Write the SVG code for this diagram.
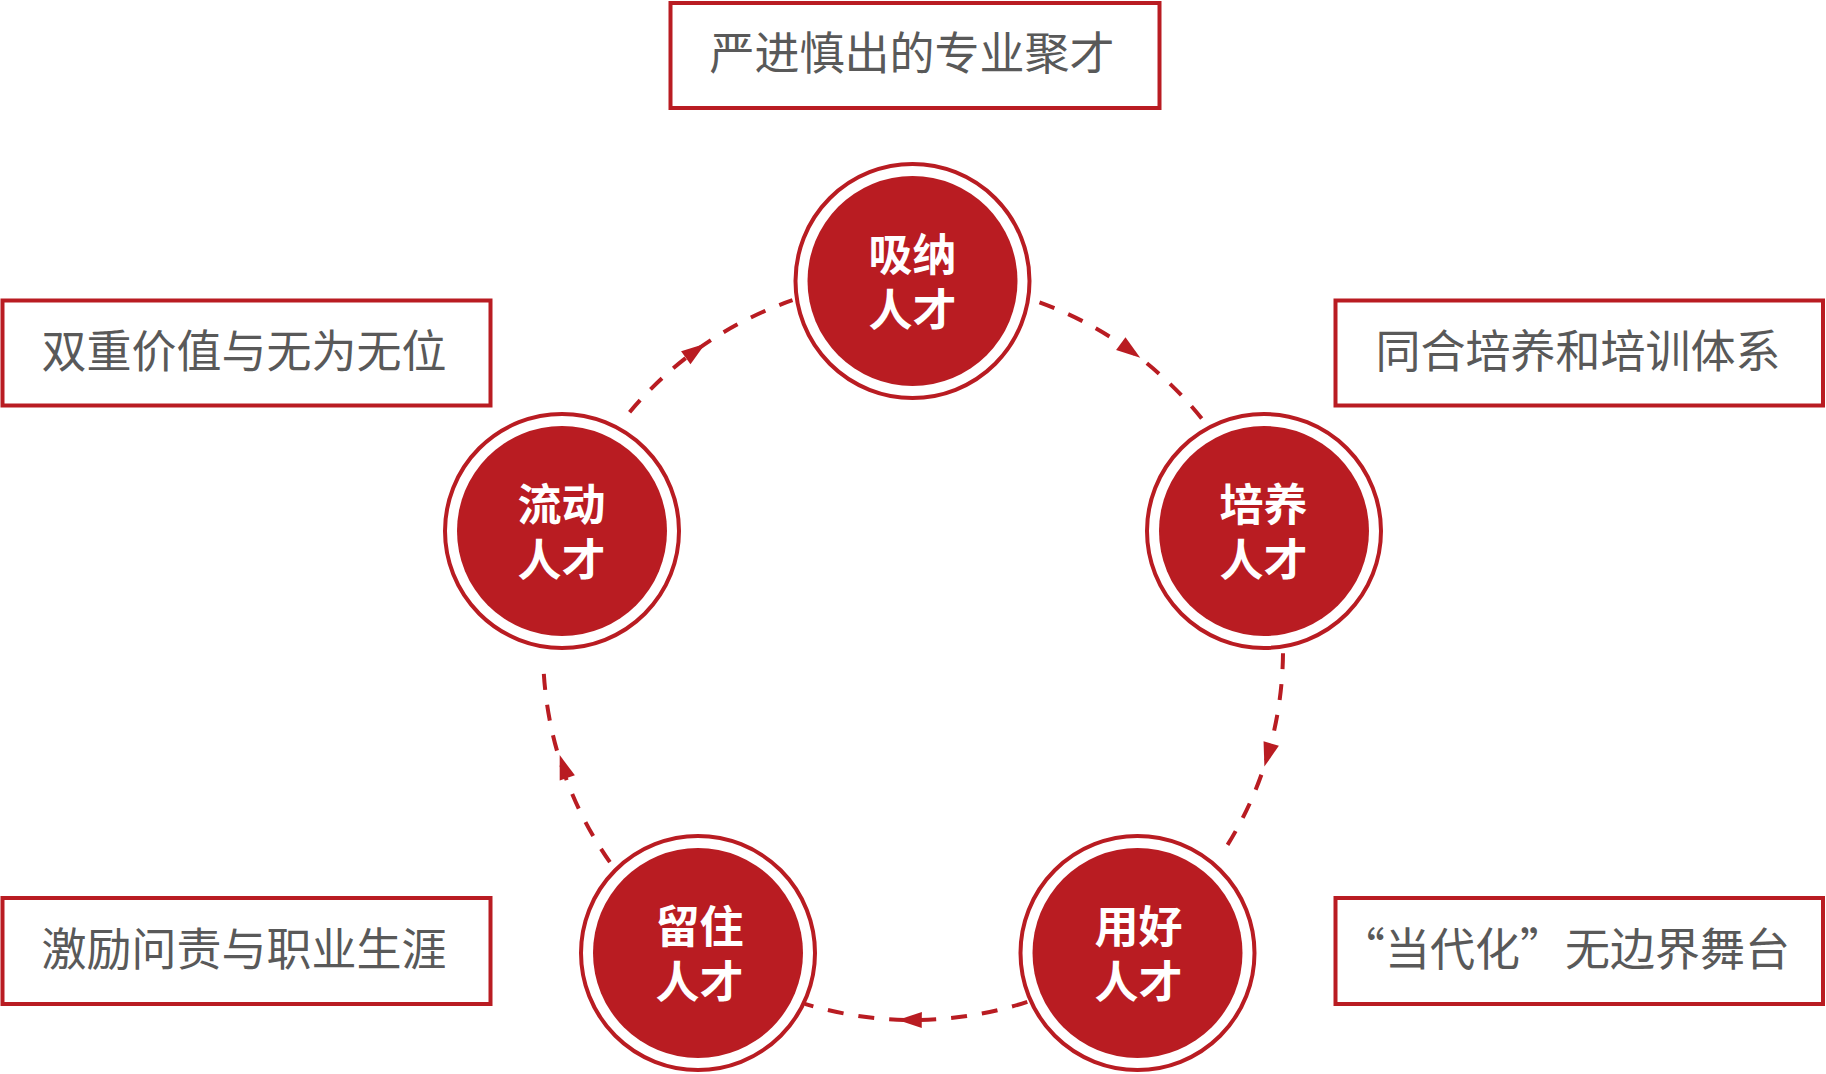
<svg xmlns="http://www.w3.org/2000/svg" width="1826" height="1074" viewBox="0 0 1826 1074">
<defs>
<style>
.box{fill:#ffffff;stroke:#b91c22;stroke-width:4}
.btxt{font-family:"Noto Sans CJK SC","Noto Sans",sans-serif;font-size:45px;fill:#595959;text-anchor:middle}
.ring{fill:#ffffff;stroke:#b91c22;stroke-width:4}
.core{fill:#b91c22}
.ntxt{font-family:"Noto Sans CJK SC","Noto Sans",sans-serif;font-size:44px;font-weight:bold;fill:#ffffff;text-anchor:middle}
.arc{fill:none;stroke:#b91c22;stroke-width:4;stroke-dasharray:16 15}
.arr{fill:#b91c22}
</style>
<polygon id="ah" points="-12,-8 12,0 -12,8"/>
</defs>
<rect width="1826" height="1074" fill="#ffffff"/>

<g id="connectors">
<path class="arc" d="M1039.5 302.3 A370 370 0 0 1 1204.6 422.2"/>
<path class="arc" d="M1283 653.2 A370 370 0 0 1 1225.1 848.8"/>
<path class="arc" d="M1027.3 1001.9 A370 370 0 0 1 804.8 1003.8"/>
<path class="arc" d="M609.9 862.2 A370 370 0 0 1 543.4 666.1"/>
<path class="arc" d="M629.6 412.2 A370 370 0 0 1 792.5 300.2"/>
<use href="#ah" class="arr" transform="translate(1130.5 350.7) rotate(36)"/>
<use href="#ah" class="arr" transform="translate(1267.8 755.1) rotate(106.5)"/>
<use href="#ah" class="arr" transform="translate(909.8 1020) rotate(180.5)"/>
<use href="#ah" class="arr" transform="translate(563.5 766.5) rotate(251.5)"/>
<use href="#ah" class="arr" transform="translate(695.5 350.7) rotate(324)"/>
</g>

<g id="box-top">
<rect class="box" x="670.5" y="3" width="489" height="105"/>
<text class="btxt" x="912" y="69.5">严进慎出的专业聚才</text>
</g>
<g id="box-left1">
<rect class="box" x="2.5" y="300.5" width="488" height="105"/>
<text class="btxt" x="244" y="368">双重价值与无为无位</text>
</g>
<g id="box-right1">
<rect class="box" x="1335.5" y="300.5" width="487.5" height="105"/>
<text class="btxt" x="1578" y="368">同合培养和培训体系</text>
</g>
<g id="box-left2">
<rect class="box" x="2.5" y="898" width="488" height="106"/>
<text class="btxt" x="244" y="966">激励问责与职业生涯</text>
</g>
<g id="box-right2">
<rect class="box" x="1335.5" y="898" width="487.5" height="106"/>
<text class="btxt" x="1565" y="966">“当代化”无边界舞台</text>
</g>

<g id="node-xina">
<circle class="ring" cx="912.5" cy="281" r="117"/>
<circle class="core" cx="912.5" cy="281" r="105"/>
<text class="ntxt"><tspan x="912.5" y="271">吸纳</tspan><tspan x="912.5" y="326">人才</tspan></text>
</g>
<g id="node-peiyang">
<circle class="ring" cx="1264" cy="531" r="117"/>
<circle class="core" cx="1264" cy="531" r="105"/>
<text class="ntxt"><tspan x="1263.5" y="521">培养</tspan><tspan x="1263.5" y="576">人才</tspan></text>
</g>
<g id="node-yonghao">
<circle class="ring" cx="1137.5" cy="953" r="117"/>
<circle class="core" cx="1137.5" cy="953" r="105"/>
<text class="ntxt"><tspan x="1138.5" y="943">用好</tspan><tspan x="1138.5" y="998">人才</tspan></text>
</g>
<g id="node-liuzhu">
<circle class="ring" cx="698" cy="953" r="117"/>
<circle class="core" cx="698" cy="953" r="105"/>
<text class="ntxt"><tspan x="699.5" y="943">留住</tspan><tspan x="699.5" y="998">人才</tspan></text>
</g>
<g id="node-liudong">
<circle class="ring" cx="562" cy="531" r="117"/>
<circle class="core" cx="562" cy="531" r="105"/>
<text class="ntxt"><tspan x="561.5" y="521">流动</tspan><tspan x="561.5" y="576">人才</tspan></text>
</g>
</svg>
